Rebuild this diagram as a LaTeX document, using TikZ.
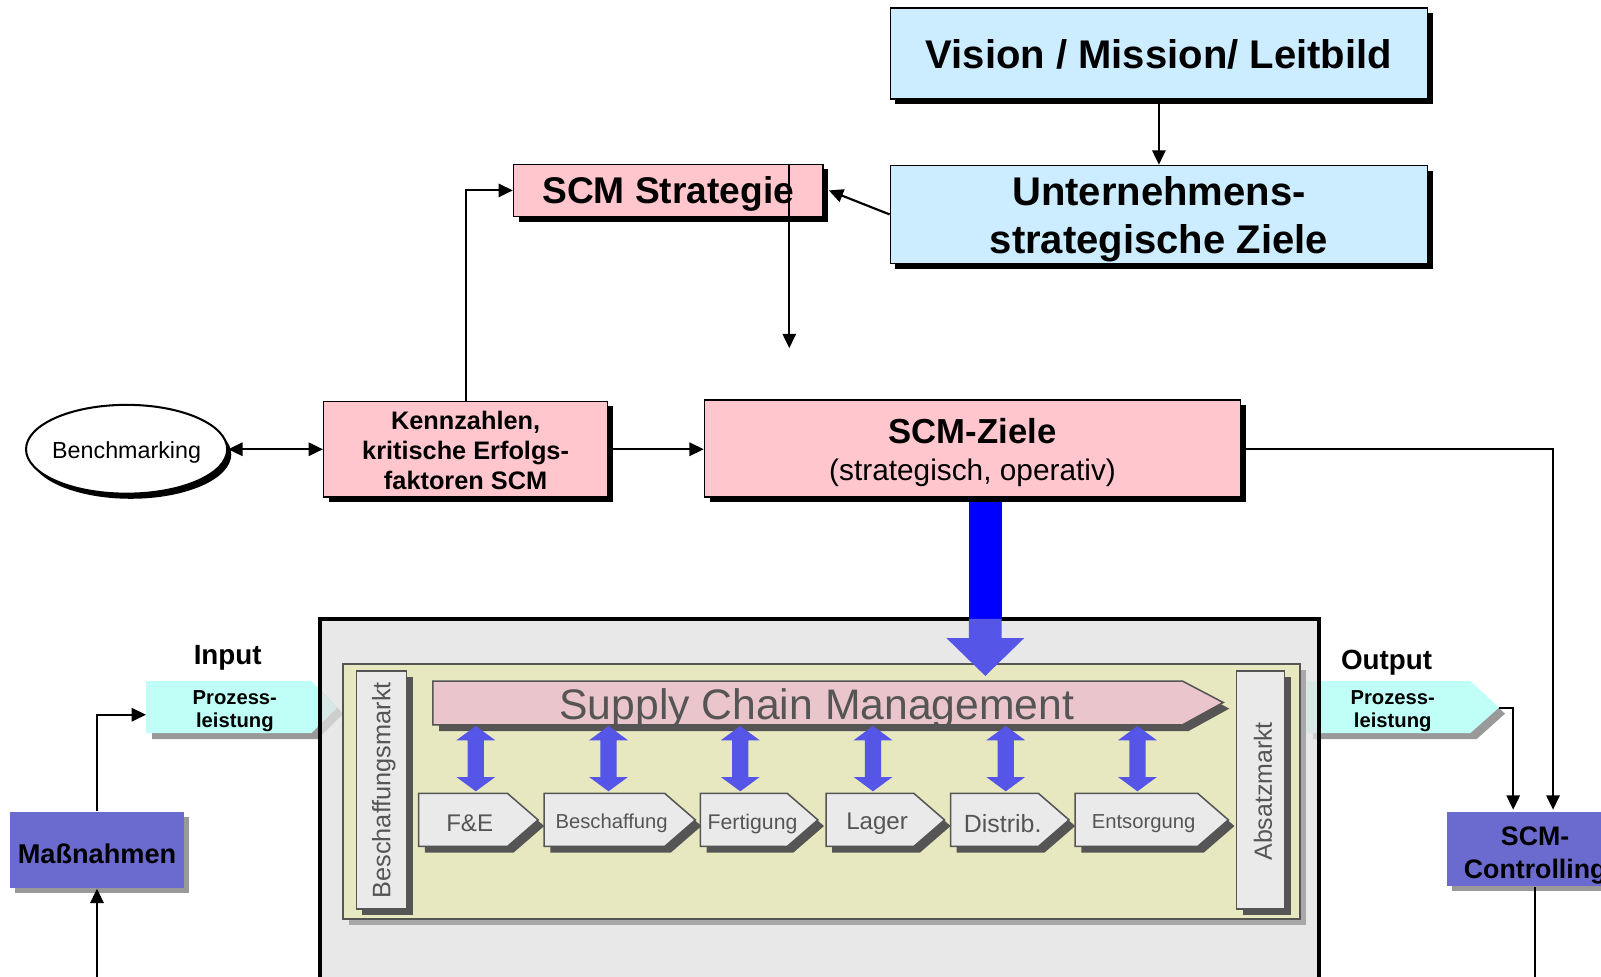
\documentclass[tikz,border=0pt]{standalone}
\usepackage{fontspec}
\setmainfont{Liberation Sans}
\usetikzlibrary{arrows.meta,shadows,shapes.geometric,calc}
\definecolor{pinkbox}{HTML}{FFC6CE}
\definecolor{lblue}{HTML}{CCECFF}
\definecolor{cyanf}{HTML}{BFFFF7}
\definecolor{purp}{HTML}{6B6BCF}
\definecolor{bggrey}{HTML}{E0E0E0}
\definecolor{ylw}{HTML}{E8E8C0}
\definecolor{bannerpink}{HTML}{EAC6CC}
\definecolor{dgrey}{HTML}{555555}
\definecolor{shgrey}{HTML}{999999}
\definecolor{ltgrey}{HTML}{EAEAEA}
\definecolor{arrblue}{HTML}{5555E8}
\definecolor{pureblue}{HTML}{0000FF}
\newcommand\myfs[2]{\fontsize{#1pt}{#2pt}\selectfont}
\newcommand\chev[7]{%
 \fill[dgrey,shift={(6,6)}] (#2,777) -- (#3,777) -- (#4,803) -- (#3,829) -- (#2,829) -- cycle;
 \draw[dgrey,fill=ltgrey,line width=0.75pt] (#2,777) -- (#3,777) -- (#4,803) -- (#3,829) -- (#2,829) -- cycle;
 \node[txt,text=dgrey,font=\myfs{#6}{#6}] (#1) at (#5,803) {#7};}
\begin{document}
\begin{tikzpicture}[x=0.5pt,y=-0.5pt,
  shbox/.style={draw=black, line width=0.75pt, inner sep=0pt,
    drop shadow={shadow xshift=2.5pt, shadow yshift=-2.5pt, fill=black, opacity=1}},
  purpbox/.style={fill=purp, inner sep=0pt,
    drop shadow={shadow xshift=2.5pt, shadow yshift=-2.5pt, fill=shgrey, opacity=1}},
  txt/.style={align=center, inner sep=0pt, yshift=-1.8pt},
  arr/.style={line width=1.05pt, -{Triangle[length=7pt,width=6.5pt]}},
  darr/.style={line width=1.05pt, {Triangle[length=7pt,width=6.5pt]}-{Triangle[length=7pt,width=6.5pt]}},
  ]
\useasboundingbox (0,0) rectangle (1568,956);

% ---------- top boxes ----------
\node[shbox, fill=lblue, minimum width=263pt, minimum height=44.5pt] (vision) at (1135,52.5) {};
\node[txt, yshift=1.3pt, font=\myfs{19.6}{23.5}\bfseries] (visiontxt) at (vision.center) {Vision / Mission/ Leitbild};
\node[shbox, fill=lblue, minimum width=263pt, minimum height=48pt] (unt) at (1135,210) {};
\node[txt, yshift=-0.6pt, font=\myfs{19.6}{23.5}\bfseries] (unttxt) at (unt.center) {Unternehmens-\\strategische Ziele};
\node[shbox, fill=pinkbox, minimum width=151.5pt, minimum height=25.5pt] (strat) at (654.5,186.5) {};
\node[txt, font=\myfs{18.2}{20}\bfseries] (strattxt) at (strat.center) {SCM Strategie};
\node[shbox, fill=pinkbox, minimum width=139pt, minimum height=47pt] (kenn) at (456,440) {};
\node[txt, yshift=1.2pt, font=\myfs{12.4}{14.8}\bfseries] (kenntxt) at (kenn.center) {Kennzahlen,\\kritische Erfolgs-\\faktoren SCM};
\node[shbox, fill=pinkbox, minimum width=262.5pt, minimum height=47.5pt] (ziele) at (952.5,439.5) {};
\node[txt, font=\myfs{14.6}{18.5}] (zieletxt) at (ziele.center) {{\myfs{17}{18.5}\bfseries SCM-Ziele}\\(strategisch, operativ)};
\node[ellipse, draw=black, line width=1pt, fill=white, inner sep=0pt,
  minimum width=98.5pt, minimum height=43.5pt,
  drop shadow={shadow xshift=2pt, shadow yshift=-2.5pt, fill=black, opacity=1}] (bench) at (124,440) {};
\node[txt, font=\myfs{11.4}{13}] (benchtxt) at (bench.center) {Benchmarking};

% ---------- connectors top ----------
\coordinate (drop) at (773,341);
\draw[arr] (vision.south) -- (unt.north);
\draw[arr] (unt.west) -- ($(strat.east)+(5,0)$);
\draw[arr] (kenn.north) |- (strat.west);
\draw[darr] (bench.east) -- (kenn.west);
\draw[arr] (kenn.east) -- (kenn.east -| ziele.west);
\draw[arr] (strat.north -| drop) -- (drop);

% ---------- side boxes ----------
\node[purpbox, minimum width=85pt, minimum height=37.5pt] (mass) at (95,832.5) {};
\node[txt, yshift=-0.2pt, font=\myfs{13.3}{15}\bfseries] (masstxt) at (mass.center) {Maßnahmen};
\node[purpbox, minimum width=86.5pt, minimum height=36.5pt] (ctrl) at (1503.5,831.5) {};
\node[txt, yshift=-1.5pt, font=\myfs{13.1}{16}\bfseries] (ctrltxt) at (ctrl.center) {SCM-\\Controlling};

% feedback line along the bottom (mostly below the page edge)
\coordinate (fb) at (0,957.7);
\draw[arr] (ctrl.south) -- (ctrl.south |- fb) -| (mass.south);

% ---------- input / output shapes (under the grey box) ----------
\fill[shgrey, shift={(6,6)}] (143,667) -- (305,667) -- (330,693) -- (305,718) -- (143,718) -- cycle;
\fill[cyanf] (143,667) -- (305,667) -- (330,693) -- (305,718) -- (143,718) -- cycle;
\fill[shgrey, shift={(6,6)}] (1280,667) -- (1440,667) -- (1468,693) -- (1440,718) -- (1280,718) -- cycle;
\fill[cyanf] (1280,667) -- (1440,667) -- (1468,693) -- (1440,718) -- (1280,718) -- cycle;

% ---------- grey frame ----------
\fill[bggrey, fill opacity=0.75] (313,606) rectangle (1292,970);
\node[txt, font=\myfs{9.9}{11.5}\bfseries] (inp) at (230,693) {Prozess-\\leistung};
\node[txt, font=\myfs{9.9}{11.5}\bfseries] (outp) at (1364,693) {Prozess-\\leistung};
\draw[black, line width=2pt] (313,970) -- (313,606) -- (1292,606) -- (1292,970);

\node[txt, font=\myfs{13.6}{16}\bfseries] (inlbl) at (223,641) {Input};
\node[txt, font=\myfs{13.6}{16}\bfseries] (outlbl) at (1358,645) {Output};

% yellow inner box
\fill[shgrey!85, shift={(6,6)}] (336,650) rectangle (1273,900);
\draw[dgrey, fill=ylw, line width=0.9pt] (336,650) rectangle (1273,900);

% vertical market boxes
\fill[dgrey, shift={(6,6)}] (349,657) rectangle (398,890);
\draw[dgrey, fill=ltgrey, line width=0.75pt] (349,657) rectangle (398,890);
\node[rotate=90, text=dgrey, inner sep=0pt, font=\myfs{12.4}{14}] (bmarkt) at (376,774) {Beschaffungsmarkt};
\fill[dgrey, shift={(6,6)}] (1211,657) rectangle (1258,890);
\draw[dgrey, fill=ltgrey, line width=0.75pt] (1211,657) rectangle (1258,890);
\node[rotate=90, text=dgrey, inner sep=0pt, font=\myfs{12.2}{14}] (amarkt) at (1237,775) {Absatzmarkt};

% banner
\fill[dgrey, shift={(6,6)}] (424,667) -- (1158,667) -- (1198,688) -- (1158,710) -- (424,710) -- cycle;
\draw[dgrey, fill=bannerpink, line width=0.75pt] (424,667) -- (1158,667) -- (1198,688) -- (1158,710) -- (424,710) -- cycle;
\node[txt, text=dgrey, font=\myfs{20.9}{22}] (scm) at (800,690) {Supply Chain Management};

% process chevrons
\chev{fe}{410}{497}{527}{460}{11.8}{F\&E}
\chev{besch}{533}{651}{681}{599}{9.9}{Beschaffung}
\chev{fert}{686}{771}{801}{737}{10.4}{Fertigung}
\chev{lager}{809}{895}{925}{859}{11.8}{Lager}
\chev{dist}{931}{1017}{1047}{982}{12.2}{Distrib.}
\chev{ents}{1053}{1173}{1203}{1120}{9.9}{Entsorgung}

% blue double arrows
\foreach \c in {466,596,725,855,985,1114}{
  \fill[arrblue] (\c,711) -- (\c+19,725) -- (\c+8,725) -- (\c+8,761) -- (\c+19,761)
    -- (\c,775) -- (\c-19,761) -- (\c-8,761) -- (\c-8,725) -- (\c-19,725) -- cycle;
}

% big arrow from SCM-Ziele
\fill[pureblue] (949,492) rectangle (981,606);
\fill[arrblue] (949,606) -- (981,606) -- (981,625) -- (1003,625) -- (965,662) -- (927,625) -- (949,625) -- cycle;

% ---------- connectors bottom ----------
\coordinate (inL) at (143,700);
\coordinate (outtip) at (1468,693);
\coordinate (ctrlA) at (1482,793);
\coordinate (ctrlB) at (1521,793);
\draw[arr] (mass.north) |- (inL);
\draw[arr] (outtip) -| (ctrlA);
\draw[arr] (ziele.east) -| (ctrlB);
\end{tikzpicture}
\end{document}
